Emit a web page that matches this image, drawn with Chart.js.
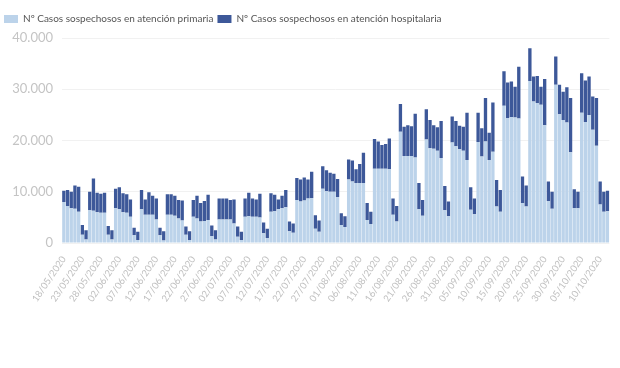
<!DOCTYPE html>
<html>
<head>
<meta charset="utf-8">
<script src="https://cdn.jsdelivr.net/npm/chart.js@4/dist/chart.umd.min.js"></script>
<style>
html,body{margin:0;padding:0;background:#fff;}
#wrap{width:620px;height:368px;position:relative;}
</style>
</head>
<body>
<div id="wrap"><canvas id="c" width="620" height="368"></canvas></div>
<script>
// Series names
const seriesNames = ["Nº Casos sospechosos en atención primaria", "Nº Casos sospechosos en atención hospitalaria"];

// Categories: daily dates from 18/05/2020 to 12/10/2020
const startDate = [2020, 4, 18];
const dayCount = 148;

// Nº casos en atención primaria (one value per day)
const primaria = [
  8000,7200,6800,6700,6100,1600,700,
  6400,6300,6000,5900,5900,1600,700,
  6800,6600,6000,5900,5100,1500,600,
  6600,5500,5500,5500,4600,1500,500,
  5500,5500,5300,4800,4400,1600,600,
  5100,4800,4200,4300,4500,1300,700,
  4600,4600,4600,4600,3800,1200,600,
  5100,5200,5100,5100,5000,1900,1000,
  6100,6200,6600,6800,7000,2300,2000,
  8400,8100,8300,8700,8800,2800,2200,
  10600,10100,10000,10000,9000,3500,3100,
  12400,12000,11700,11700,11700,4500,3700,
  14500,14500,14500,14500,14400,5500,4200,
  21700,17000,17000,17000,16700,6600,5300,
  20200,18500,18400,18000,16600,6400,5200,
  19600,18900,18300,18000,16200,6500,5600,
  19700,16900,19800,16200,17800,7100,6100,
  26800,24400,24600,24500,24300,7800,7100,
  31600,27600,27300,27000,23000,8200,6700,
  30900,25100,24000,23500,17700,6800,6800,
  25400,23600,25000,22100,19000,7500,6100,6200
];

// Nº casos en atención hospitalaria (one value per day)
const hospitalaria = [
  2200,3150,3200,4500,4900,1900,1800,
  3600,6300,3800,3700,3900,1700,1800,
  3800,4300,3700,3600,3400,1500,1600,
  3750,3000,4400,3700,4100,1500,1800,
  4000,4000,3900,3600,3900,1600,1700,
  3300,4400,3600,3900,4900,2100,1800,
  4100,4100,4100,3800,4700,2000,1600,
  3600,4600,3600,3400,4600,2100,1800,
  3600,3200,1900,2400,3350,1900,1800,
  4300,4300,4500,3700,5100,2600,2200,
  4400,4100,3700,3500,3500,2300,2100,
  3900,4100,2700,3700,5900,3300,2400,
  5800,5300,4600,4800,6000,3200,3000,
  5400,5700,6000,5800,8500,5100,3100,
  5900,5500,4600,4600,7200,4700,2900,
  5100,4900,4600,4700,9200,4400,3100,
  5700,5500,8500,5300,9600,5200,4250,
  6700,6900,6900,6000,10100,5200,4100,
  6400,4900,5300,3500,9000,3800,3300,
  5500,5800,5500,6900,10600,3700,3200,
  7700,8100,7500,6500,9300,4500,3900,4000
];

// Y tick values
const yTicks = [0, 10000, 20000, 30000, 40000];

function pad(n){return (n<10?'0':'')+n;}
const labels = [];
for (let i = 0; i < dayCount; i++) {
  const d = new Date(Date.UTC(startDate[0], startDate[1], startDate[2] + i));
  labels.push(pad(d.getUTCDate()) + '/' + pad(d.getUTCMonth()+1) + '/' + d.getUTCFullYear());
}

function fmt(v){ return String(v).replace(/\B(?=(\d{3})+(?!\d))/g, '.'); }

const FONT = "'Lato', sans-serif";

// enlarge legend block slightly so the plot starts lower
const legendSpacer = {
  id: 'legendSpacer',
  beforeLayout(chart) {
    const lg = chart.legend;
    if (lg && !lg._patched) {
      const orig = lg.fit;
      lg.fit = function() { orig.call(this); this.height += 4; };
      lg._patched = true;
    }
  }
};

new Chart(document.getElementById('c'), {
  type: 'bar',
  data: {
    labels: labels,
    datasets: [
      { label: seriesNames[0], data: primaria, backgroundColor: '#bcd3ea', borderWidth: 0, barPercentage: 0.9, categoryPercentage: 1 },
      { label: seriesNames[1], data: hospitalaria, backgroundColor: '#3d5899', borderWidth: 0, barPercentage: 0.9, categoryPercentage: 1 }
    ]
  },
  options: {
    responsive: false,
    animation: false,
    layout: { padding: { left: 0, right: 1, top: 10, bottom: 0 } },
    plugins: {
      legend: {
        position: 'top',
        align: 'start',
        labels: {
          boxWidth: 14, boxHeight: 8, padding: 4,
          color: '#555', font: { family: FONT, size: 10 }
        }
      },
      tooltip: { enabled: false }
    },
    scales: {
      x: {
        stacked: true,
        grid: { display: false },
        border: { display: false },
        ticks: {
          autoSkip: false, maxRotation: 56, minRotation: 56,
          color: '#c0c0c0', font: { family: FONT, size: 9.5 }, padding: 3,
          callback: function(v, i){ return i % 5 === 0 ? labels[i] : ''; }
        },
        afterFit: function(s){ s.height = 125; }
      },
      y: {
        stacked: true,
        min: 0, max: 40000,
        afterBuildTicks: function(s){ s.ticks = yTicks.map(v => ({value: v})); },
        grid: { color: '#f1f1f1', drawTicks: false },
        border: { display: false },
        ticks: { color: '#c4c4c4', font: { family: FONT, size: 13 }, padding: 9, callback: v => fmt(v) },
        afterFit: function(s){ s.width = 62; }
      }
    }
  },
  plugins: [legendSpacer]
});
</script>
</body>
</html>
